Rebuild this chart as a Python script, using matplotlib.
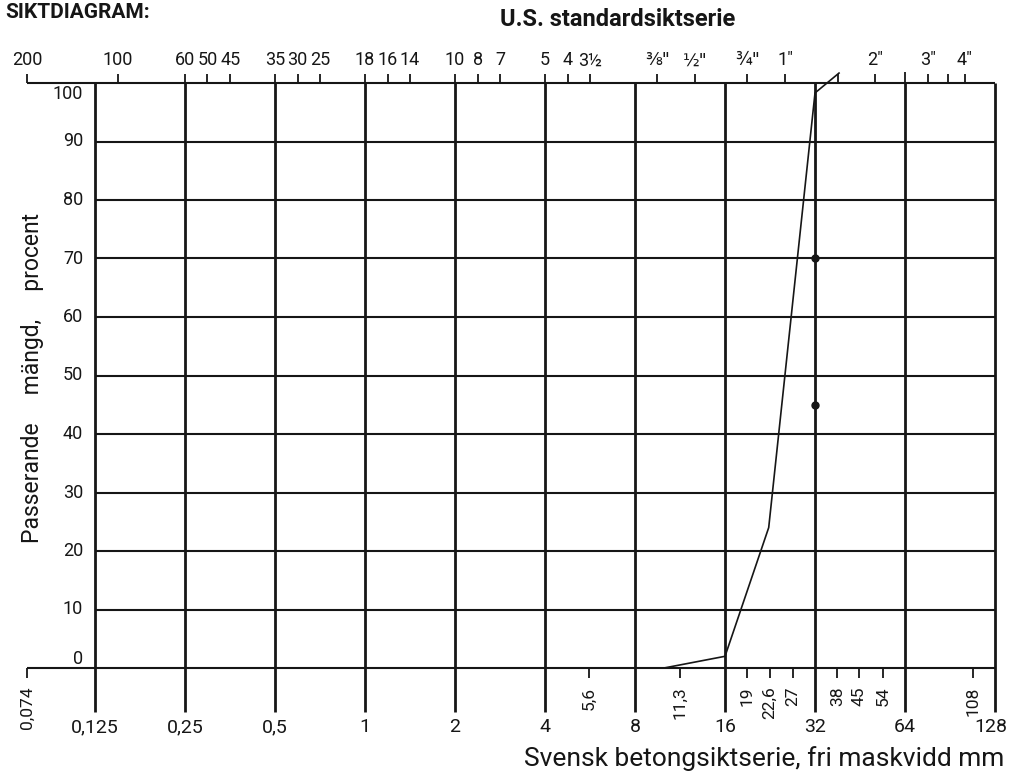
import matplotlib
matplotlib.use("Agg")
import matplotlib.pyplot as plt

plt.rcParams["font.family"] = ["Roboto", "DejaVu Sans"]
INK = "#161616"

# Svensk betongsiktserie (mm)
major_sizes = [0.125, 0.25, 0.5, 1, 2, 4, 8, 16, 32, 64, 128]
major_labels = ["0,125", "0,25", "0,5", "1", "2", "4", "8", "16", "32", "64", "128"]
minor_sizes = [0.074, 5.6, 11.3, 19, 22.6, 27, 38, 45, 54, 108]
minor_labels = ["0,074", "5,6", "11,3", "19", "22,6", "27", "38", "45", "54", "108"]

# U.S. standardsiktserie (mesh / inch sizes converted to mm)
us_sizes = [0.074, 0.149, 0.25, 0.297, 0.354, 0.5, 0.595, 0.707, 1.0, 1.19, 1.41,
            2.0, 2.38, 2.83, 4.0, 4.76, 5.66, 9.51, 12.7, 19.0, 25.4, 38.1, 50.8,
            64, 76.2, 88.9, 101.6]
us_labels = ["200", "100", "60", "50", "45", "35", "30", "25", "18", "16", "14",
             "10", "8", "7", "5", "4", "3½", "⅜\"", "½\"", "¾\"", "1\"", "", "2\"",
             "", "3\"", "", "4\""]

y_levels = [0, 10, 20, 30, 40, 50, 60, 70, 80, 90, 100]

# siktkurva
curve_mm = [10, 16, 22.4, 32, 38.5]
curve_pct = [0, 2, 24, 98.3, 101.7]
dots_mm = [32, 32]
dots_pct = [70, 45]

fig = plt.figure(figsize=(10.09, 7.73), dpi=100)
fig.patch.set_facecolor("white")
ax = fig.add_axes([27 / 1009, 105 / 773, 968 / 1009, 585 / 773])
ax.set_xscale("log")
ax.set_xlim(0.074, 128)
ax.set_ylim(0, 100)
ax.axis("off")

xmin, xmax = 0.074, 128

# horizontal grid
for v in y_levels:
    left = xmin if v in (0, 100) else major_sizes[0]
    ax.hlines(v, left, xmax, color=INK, lw=1.5, clip_on=False)

# vertical main lines
ax.vlines(major_sizes, -7.6, 100, color=INK, lw=2.0, clip_on=False)

# bottom minor ticks
ax.vlines(minor_sizes, -1.7, 0, color=INK, lw=1.3, clip_on=False)

# top ticks
for s, lab in zip(us_sizes, us_labels):
    top = 101.9 if s == 64 else 101.5
    ax.vlines(s, 100, top, color=INK, lw=1.3, clip_on=False)
    if not lab:
        continue
    if '"' in lab and lab[0] not in "1234":
        ax.text(s, 103.0, lab, ha="center", va="baseline", fontsize=12.5,
                family="DejaVu Sans", color=INK, clip_on=False)
    else:
        ax.text(s, 103.0, lab, ha="center", va="baseline", fontsize=13,
                color=INK, clip_on=False)

# bottom labels
for s, lab in zip(major_sizes, major_labels):
    xs = s * 0.965 if s == 128 else s
    ax.text(xs, -10.1, lab, ha="center", va="center", fontsize=14,
            color=INK, clip_on=False)
for s, lab in zip(minor_sizes, minor_labels):
    ax.text(s, -3.2, lab, ha="center", va="top", rotation=90, fontsize=12.5,
            color=INK, clip_on=False)

# y labels
for v in y_levels:
    ax.text(0.114, v + (1.6 if v == 0 else 0) - (1.8 if v == 100 else 0), str(v),
            ha="right", va="center", fontsize=13, color=INK, clip_on=False)

# curve
ax.plot(curve_mm, curve_pct, color=INK, lw=1.2, clip_on=False)
ax.plot(dots_mm, dots_pct, "o", color=INK, ms=5, clip_on=False)

fig.text(5 / 1009, 1 - 12 / 773, "SIKTDIAGRAM:", fontsize=15, fontweight="bold",
         color=INK, ha="left", va="center")
fig.text(618 / 1009, 1 - 20 / 773, "U.S. standardsiktserie", fontsize=17,
         fontweight="bold", color=INK, ha="center", va="center")
fig.text(1004 / 1009, 1 - 766 / 773, "Svensk betongsiktserie, fri maskvidd mm",
         fontsize=19, color=INK, ha="right", va="baseline")
fig.text(33 / 1009, 1 - 378 / 773, "Passerande     mängd,     procent", fontsize=16.5,
         color=INK, rotation=90, ha="center", va="center")

fig.savefig("out.png", dpi=100, facecolor="white")
